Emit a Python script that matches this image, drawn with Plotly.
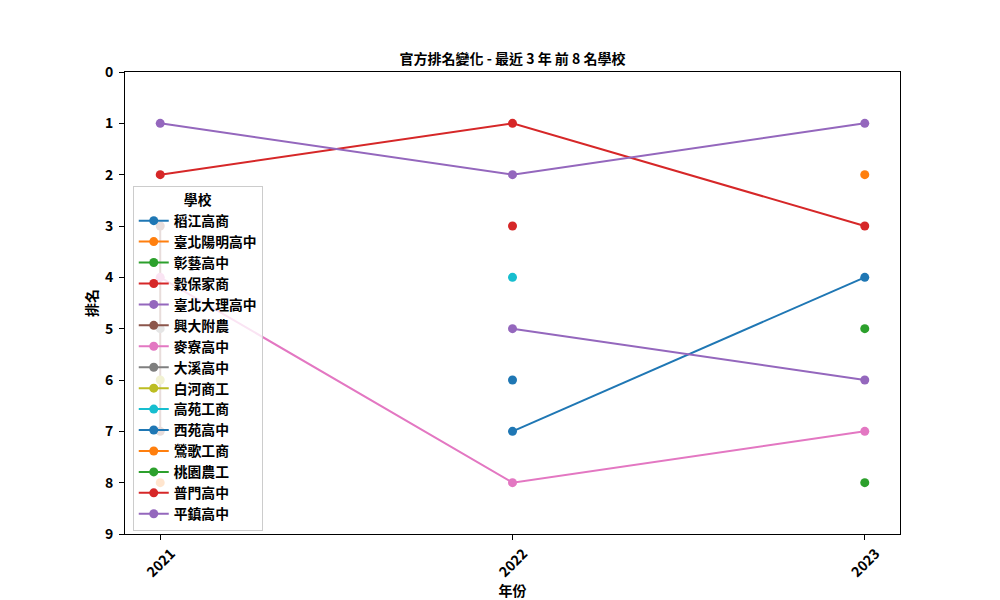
import plotly.graph_objects as go

years = [2021, 2022, 2023]
schools = ["稻江高商", "臺北陽明高中", "彰藝高中", "穀保家商", "臺北大理高中", "興大附農",
           "麥寮高中", "大溪高中", "白河商工", "高苑工商", "西苑高中", "鶯歌工商",
           "桃園農工", "普門高中", "平鎮高中"]
colors = ["#1f77b4", "#ff7f0e", "#2ca02c", "#d62728", "#9467bd", "#8c564b",
          "#e377c2", "#7f7f7f", "#bcbd22", "#17becf", "#1f77b4", "#ff7f0e",
          "#2ca02c", "#d62728", "#9467bd"]

# per-school (x years, y ranks)
x_data = {
    "稻江高商": [2022, 2023],
    "臺北陽明高中": [2023],
    "彰藝高中": [2023],
    "穀保家商": [2021, 2022, 2023],
    "臺北大理高中": [2021, 2022, 2023],
    "興大附農": [2021, 2021],
    "麥寮高中": [2021, 2022, 2023],
    "大溪高中": [2021],
    "白河商工": [2021],
    "高苑工商": [2022],
    "西苑高中": [2022],
    "鶯歌工商": [2021],
    "桃園農工": [2023],
    "普門高中": [2022],
    "平鎮高中": [2022, 2023],
}
rank_data = {
    "稻江高商": [7, 4],
    "臺北陽明高中": [2],
    "彰藝高中": [5],
    "穀保家商": [2, 1, 3],
    "臺北大理高中": [1, 2, 1],
    "興大附農": [3, 7],
    "麥寮高中": [4, 8, 7],
    "大溪高中": [5],
    "白河商工": [6],
    "高苑工商": [4],
    "西苑高中": [6],
    "鶯歌工商": [8],
    "桃園農工": [8],
    "普門高中": [3],
    "平鎮高中": [5, 6],
}
y_ticks = list(range(0, 10))

FONT = "Noto Sans CJK TC"
FS = 14
LFS = 13.8

fig = go.Figure()
for s, c in zip(schools, colors):
    fig.add_trace(go.Scatter(
        x=x_data[s], y=rank_data[s], name=s, mode="lines+markers",
        line=dict(color=c, width=2), marker=dict(color=c, size=9),
    ))

fig.update_layout(
    width=1000, height=600,
    margin=dict(l=125, r=100, t=72, b=66, autoexpand=False),
    paper_bgcolor="white", plot_bgcolor="white",
    font=dict(family=FONT, color="black", size=FS),
    title=dict(text="官方排名變化 - 最近 3 年 前 8 名學校", x=(125 + 900) / 2 / 1000,
               xanchor="center", y=1 - 59 / 600, yanchor="middle",
               font=dict(family=FONT, size=FS, weight="bold")),
    showlegend=True,
    legend=dict(
        title=dict(text="學校", side="top center", font=dict(family=FONT, size=LFS, weight="bold")),
        x=0.01, y=0.006, xanchor="left", yanchor="bottom",
        bgcolor="rgba(255,255,255,0.8)", bordercolor="#cccccc", borderwidth=1,
        font=dict(family=FONT, size=LFS, weight="bold"),
        tracegroupgap=0, itemwidth=30,
    ),
)
fig.update_xaxes(
    range=[2020.9, 2023.1], tickmode="array", tickvals=years, ticktext=[str(y) for y in years],
    tickangle=-45, ticks="outside", ticklen=5, tickcolor="black", ticklabelstandoff=0,
    ticklabelshift=11,
    showline=True, linecolor="black", linewidth=1, mirror=True, showgrid=False, zeroline=False,
    automargin=False,
    tickfont=dict(family=FONT, size=FS, weight="bold"),
    title=dict(text="年份", font=dict(family=FONT, size=FS, weight="bold"), standoff=0),
)
fig.update_yaxes(
    range=[9, 0], tickmode="array", tickvals=y_ticks, ticktext=[str(v) for v in y_ticks],
    ticks="outside", ticklen=5, tickcolor="black", ticklabelstandoff=3,
    showline=True, linecolor="black", linewidth=1, mirror=True, showgrid=False, zeroline=False,
    automargin=False,
    tickfont=dict(family=FONT, size=FS, weight="bold"),
    title=dict(text="排名", font=dict(family=FONT, size=FS, weight="bold"), standoff=4),
)

fig.write_html("out.html")
